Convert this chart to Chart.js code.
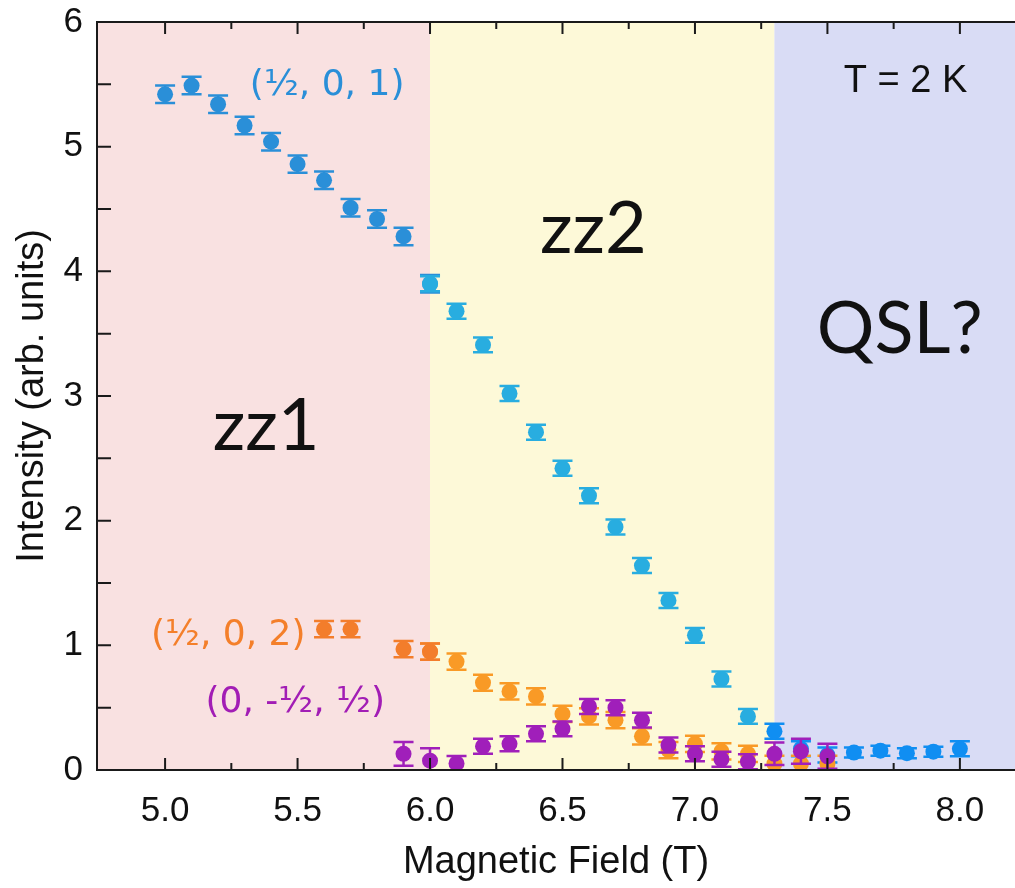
<!DOCTYPE html>
<html>
<head>
<meta charset="utf-8">
<script src="https://cdn.jsdelivr.net/npm/chart.js@4.4.1/dist/chart.umd.min.js"></script>
<style>
  html, body { margin: 0; padding: 0; background: #fff; overflow: hidden; }
  canvas { display: block; }
</style>
</head>
<body>
<canvas id="fieldChart" width="1015" height="888"></canvas>
<script>
// peak intensities vs applied field, T = 2 K

// (1/2, 0, 1) — low-field branch, transition branch, high-field tail
const field101a = [5.0, 5.1, 5.2, 5.3, 5.4, 5.5, 5.6, 5.7, 5.8, 5.9, 6.0];
const int101a   = [5.42, 5.49, 5.34, 5.17, 5.04, 4.86, 4.73, 4.51, 4.42, 4.28, 3.90];
const err101a   = [0.07, 0.07, 0.07, 0.07, 0.07, 0.07, 0.07, 0.07, 0.07, 0.07, 0.07];

const field101b = [6.0, 6.1, 6.2, 6.3, 6.4, 6.5, 6.6, 6.7, 6.8, 6.9, 7.0, 7.1, 7.2];
const int101b   = [3.90, 3.68, 3.41, 3.02, 2.71, 2.42, 2.20, 1.95, 1.64, 1.36, 1.08, 0.73, 0.43];
const err101b   = [0.06, 0.06, 0.06, 0.06, 0.06, 0.06, 0.06, 0.06, 0.06, 0.06, 0.06, 0.06, 0.06];

const field101c = [7.3, 7.4, 7.5, 7.6, 7.7, 7.8, 7.9, 8.0];
const int101c   = [0.31, 0.17, 0.12, 0.14, 0.155, 0.135, 0.147, 0.17];
const err101c   = [0.06, 0.06, 0.06, 0.04, 0.04, 0.04, 0.04, 0.06];

// (1/2, 0, 2)
const field102a = [5.6, 5.7, 5.9, 6.0];
const int102a   = [1.13, 1.13, 0.97, 0.95];
const err102a   = [0.065, 0.065, 0.065, 0.065];

const field102b = [6.0, 6.1, 6.2, 6.3, 6.4, 6.5, 6.6, 6.7, 6.8, 6.9, 7.0, 7.1, 7.2, 7.3, 7.4, 7.5];
const int102b   = [0.95, 0.87, 0.70, 0.63, 0.59, 0.45, 0.43, 0.40, 0.27, 0.16, 0.21, 0.15, 0.13, 0.05, 0.05, 0.05];
const err102b   = [0.065, 0.065, 0.065, 0.065, 0.065, 0.065, 0.065, 0.065, 0.065, 0.065, 0.065, 0.065, 0.065, 0.065, 0.065, 0.065];

// (0, -1/2, 1/2)
const field011 = [5.9, 6.0, 6.1, 6.2, 6.3, 6.4, 6.5, 6.6, 6.7, 6.8, 6.9, 7.0, 7.1, 7.2, 7.3, 7.4, 7.5];
const int011   = [0.13, 0.075, 0.053, 0.19, 0.21, 0.29, 0.33, 0.51, 0.50, 0.40, 0.20, 0.13, 0.086, 0.067, 0.13, 0.15, 0.11];
const err011   = [0.095, 0.10, 0.06, 0.06, 0.06, 0.06, 0.06, 0.06, 0.06, 0.06, 0.06, 0.06, 0.06, 0.06, 0.09, 0.10, 0.10];

// axis ticks and phase boundaries (zz1 | zz2 | QSL?)
const xTicks = [5.0, 5.5, 6.0, 6.5, 7.0, 7.5, 8.0];
const yTicks = [0, 1, 2, 3, 4, 5, 6];
const phaseEdges = [6.0, 7.3];

const AXIS_FONT = "'Liberation Sans', Arial, sans-serif";
const NOTE_FONT = "'DejaVu Sans', sans-serif";
const PHASE_FONT = "Lato, sans-serif";

const pts = (xs, ys) => xs.map((x, i) => ({ x, y: ys[i] }));

function series(xs, ys, errs, color, order) {
  return {
    data: pts(xs, ys), errors: errs,
    backgroundColor: color, borderColor: color,
    pointRadius: 8, pointHoverRadius: 8, borderWidth: 0,
    showLine: false, order,
  };
}

// shaded phase regions behind the data
const phaseShading = {
  id: 'phaseShading',
  beforeDatasetsDraw(chart) {
    const { ctx, chartArea: a, scales: { x } } = chart;
    const cuts = [a.left, ...phaseEdges.map(v => x.getPixelForValue(v)), a.right];
    const fills = ['#f9e1e1', '#fdf9d8', '#d9dcf5'];
    ctx.save();
    fills.forEach((c, i) => {
      ctx.fillStyle = c;
      ctx.fillRect(cuts[i], a.top, cuts[i + 1] - cuts[i], a.bottom - a.top);
    });
    ctx.restore();
  }
};

// vertical error bars with caps, drawn under each dataset's markers
const errorBars = {
  id: 'errorBars',
  beforeDatasetDraw(chart, args) {
    const ds = chart.data.datasets[args.index];
    if (!ds.errors) return;
    const { ctx, chartArea: a, scales: { y } } = chart;
    ctx.save();
    ctx.beginPath();
    ctx.rect(a.left, a.top, a.right - a.left, a.bottom - a.top);
    ctx.clip();
    ctx.strokeStyle = ds.backgroundColor;
    ctx.lineWidth = 2.5;
    ds.data.forEach((p, i) => {
      const px = args.meta.data[i].x;
      const hi = y.getPixelForValue(p.y + ds.errors[i]);
      const lo = y.getPixelForValue(p.y - ds.errors[i]);
      ctx.beginPath();
      ctx.moveTo(px, hi); ctx.lineTo(px, lo);
      ctx.moveTo(px - 10, hi); ctx.lineTo(px + 10, hi);
      ctx.moveTo(px - 10, lo); ctx.lineTo(px + 10, lo);
      ctx.stroke();
    });
    ctx.restore();
  }
};

// frame with inward ticks (left, bottom, top)
const frame = {
  id: 'frame',
  afterDatasetsDraw(chart) {
    const { ctx, chartArea: a, scales: { x, y } } = chart;
    ctx.save();
    ctx.strokeStyle = '#1a1a1a';
    ctx.lineWidth = 2;
    ctx.beginPath();
    ctx.moveTo(a.right, a.top); ctx.lineTo(a.left, a.top);
    ctx.lineTo(a.left, a.bottom); ctx.lineTo(a.right, a.bottom);
    for (let v = 5.0; v <= 8.001; v += 0.25) {
      const px = x.getPixelForValue(v);
      const len = Math.abs(v * 2 - Math.round(v * 2)) < 1e-6 ? 12 : 7;
      ctx.moveTo(px, a.bottom); ctx.lineTo(px, a.bottom - len);
      ctx.moveTo(px, a.top); ctx.lineTo(px, a.top + len);
    }
    for (let v = 0.5; v < 6; v += 0.5) {
      const py = y.getPixelForValue(v);
      ctx.moveTo(a.left, py); ctx.lineTo(a.left + 14, py);
    }
    ctx.stroke();
    ctx.restore();
  }
};

// peak labels, temperature and phase names
const notes = [
  { text: '(½, 0, 1)', x: 5.32, y: 5.49, color: '#2a8fd8', font: `36px ${NOTE_FONT}`, align: 'left' },
  { text: '(½, 0, 2)', x: 5.53, y: 1.08, color: '#f47f2a', font: `36px ${NOTE_FONT}`, align: 'right' },
  { text: '(0, -½, ½)', x: 5.83, y: 0.54, color: '#a21db5', font: `36px ${NOTE_FONT}`, align: 'right' },
  { text: 'T = 2 K', x: 7.562, y: 5.52, color: '#111', font: `38px ${AXIS_FONT}`, align: 'left' },
  { text: 'zz1', x: 5.18, y: 2.57, color: '#111', font: `72px ${PHASE_FONT}`, align: 'left', base: 'alphabetic' },
  { text: 'zz2', x: 6.415, y: 4.15, color: '#111', font: `72px ${PHASE_FONT}`, align: 'left', base: 'alphabetic' },
  { text: 'QSL?', x: 7.46, y: 3.345, color: '#111', font: `72px ${PHASE_FONT}`, align: 'left', base: 'alphabetic' },
];

const annotations = {
  id: 'annotations',
  afterDatasetsDraw(chart) {
    const { ctx, scales: { x, y } } = chart;
    ctx.save();
    notes.forEach(n => {
      ctx.font = n.font;
      ctx.fillStyle = n.color;
      ctx.textAlign = n.align;
      ctx.textBaseline = n.base || 'middle';
      ctx.fillText(n.text, x.getPixelForValue(n.x), y.getPixelForValue(n.y));
    });
    ctx.restore();
  }
};

new Chart(document.getElementById('fieldChart'), {
  type: 'scatter',
  data: {
    datasets: [
      series(field101a, int101a, err101a, '#2a8fd8', 5),
      series(field101b, int101b, err101b, '#28ade0', 4),
      series(field101c, int101c, err101c, '#108ef2', 3),
      series(field102a, int102a, err102a, '#f37d2b', 2),
      series(field102b, int102b, err102b, '#f99a26', 2),
      series(field011, int011, err011, '#a01fba', 1),
    ]
  },
  options: {
    responsive: false,
    animation: false,
    layout: { autoPadding: false, padding: { top: 22, right: 0, left: 0, bottom: 0 } },
    plugins: { legend: { display: false }, tooltip: { enabled: false } },
    scales: {
      x: {
        type: 'linear', min: 4.743, max: 8.208,
        grid: { display: false, drawTicks: false }, border: { display: false },
        afterBuildTicks: s => { s.ticks = xTicks.map(v => ({ value: v })); },
        afterFit: s => { s.height = 118; s.paddingLeft = 0; s.paddingRight = 0; },
        ticks: { color: '#111', padding: 20, font: { family: AXIS_FONT, size: 35 }, callback: v => v.toFixed(1) },
        title: { display: true, text: 'Magnetic Field (T)', color: '#111', padding: { top: 0, bottom: 3 }, font: { family: AXIS_FONT, size: 38 } },
      },
      y: {
        type: 'linear', min: 0, max: 6,
        grid: { display: false, drawTicks: false }, border: { display: false },
        afterBuildTicks: s => { s.ticks = yTicks.map(v => ({ value: v })); },
        afterFit: s => { s.width = 97; s.paddingTop = 0; s.paddingBottom = 0; },
        ticks: { color: '#111', padding: 14, font: { family: AXIS_FONT, size: 35 } },
        title: { display: true, text: 'Intensity (arb. units)', color: '#111', padding: { top: 10, bottom: 0 }, font: { family: AXIS_FONT, size: 38 } },
      }
    }
  },
  plugins: [phaseShading, errorBars, frame, annotations]
});
</script>
</body>
</html>
